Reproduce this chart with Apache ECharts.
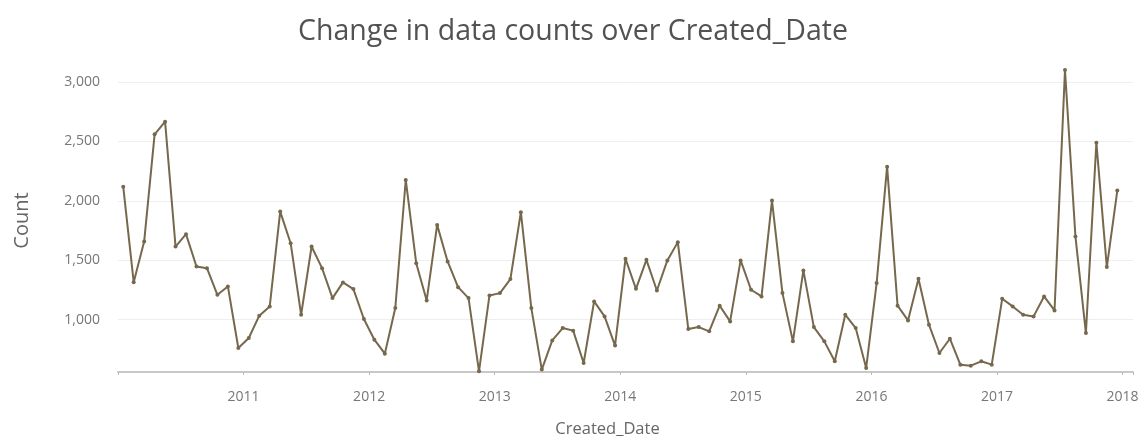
<!DOCTYPE html>
<html>
<head>
<meta charset="utf-8">
<script src="https://cdn.jsdelivr.net/npm/echarts@6/dist/echarts.min.js"></script>
<style>
html,body{margin:0;padding:0;background:#fff;}
#chart{width:1146px;height:443px;}
</style>
</head>
<body>
<div id="chart"></div>
<script>
// Monthly counts (Jan..Dec) per year
const years = [2010, 2011, 2012, 2013, 2014, 2015, 2016, 2017];
const counts2010 = [2120, 1316, 1658, 2560, 2667, 1616, 1720, 1448, 1434, 1210, 1280, 762];
const counts2011 = [846, 1034, 1112, 1910, 1644, 1042, 1616, 1434, 1182, 1314, 1258, 1006];
const counts2012 = [832, 714, 1098, 2176, 1476, 1162, 1798, 1490, 1274, 1182, 566, 1204];
const counts2013 = [1224, 1342, 1905, 1098, 580, 826, 930, 908, 636, 1154, 1028, 782];
const counts2014 = [1513, 1260, 1504, 1246, 1499, 1653, 922, 938, 902, 1118, 986, 1499];
const counts2015 = [1252, 1196, 2003, 1224, 818, 1415, 938, 818, 650, 1042, 930, 594];
const counts2016 = [1308, 2288, 1118, 994, 1345, 958, 720, 840, 622, 613, 650, 622];
const counts2017 = [1176, 1112, 1042, 1028, 1196, 1078, 3101, 1700, 888, 2490, 1443, 2087];
const yTickLabels = ['1,000', '1,500', '2,000', '2,500', '3,000'];
const xTickLabels = ['2011', '2012', '2013', '2014', '2015', '2016', '2017', '2018'];

const countsByYear = [counts2010, counts2011, counts2012, counts2013, counts2014, counts2015, counts2016, counts2017];
const seriesData = [];
years.forEach((y, i) => {
  countsByYear[i].forEach((c, m) => {
    seriesData.push([y + (m + 0.5) / 12, c]);
  });
});

const font = '"Open Sans", "Noto Sans", sans-serif';
const chart = echarts.init(document.getElementById('chart'), null, {renderer: 'canvas'});
chart.setOption({
  animation: false,
  backgroundColor: '#ffffff',
  title: {
    text: 'Change in data counts over Created_Date',
    left: 'center',
    top: 12,
    textStyle: {fontFamily: font, fontSize: 28.5, fontWeight: 'normal', color: '#525252'}
  },
  grid: {left: 118, right: 13, top: 69, bottom: 71, containLabel: false},
  xAxis: {
    type: 'value',
    min: 2010,
    max: 2018 + 1 / 12,
    interval: 1,
    name: 'Created_Date',
    nameLocation: 'middle',
    nameGap: 49,
    nameTextStyle: {fontFamily: font, fontSize: 16.5, color: '#666666', padding: [0, 36, 0, 0]},
    axisLine: {show: true, lineStyle: {color: '#c8c8c8', width: 2}},
    axisTick: {show: true, length: 3, lineStyle: {color: '#bbbbbb'}},
    axisLabel: {
      fontFamily: font, fontSize: 14, color: '#777777', margin: 18,
      formatter: function (v) {
        const r = Math.round(v * 1000) / 1000;
        const s = String(Math.round(r));
        return (Number.isInteger(r) && xTickLabels.indexOf(s) >= 0) ? s : '';
      }
    },
    splitLine: {show: false}
  },
  yAxis: {
    type: 'value',
    min: 560,
    max: 3110,
    name: 'Count',
    nameLocation: 'middle',
    nameGap: 86,
    nameRotate: 90,
    nameTextStyle: {fontFamily: font, fontSize: 20, color: '#666666'},
    axisLine: {show: false},
    axisTick: {show: false},
    axisLabel: {
      fontFamily: font, fontSize: 14, color: '#777777', margin: 18,
      formatter: function (v) {
        const s = Math.round(v).toLocaleString('en-US');
        return yTickLabels.indexOf(s) >= 0 ? s : '';
      }
    },
    splitLine: {show: true, showMinLine: false, showMaxLine: false, lineStyle: {color: '#eeeeee', width: 1}}
  },
  series: [{
    type: 'line',
    data: seriesData,
    showSymbol: true,
    symbol: 'circle',
    symbolSize: 4,
    itemStyle: {color: '#76684c'},
    lineStyle: {color: '#76684c', width: 2}
  }]
});
</script>
</body>
</html>
